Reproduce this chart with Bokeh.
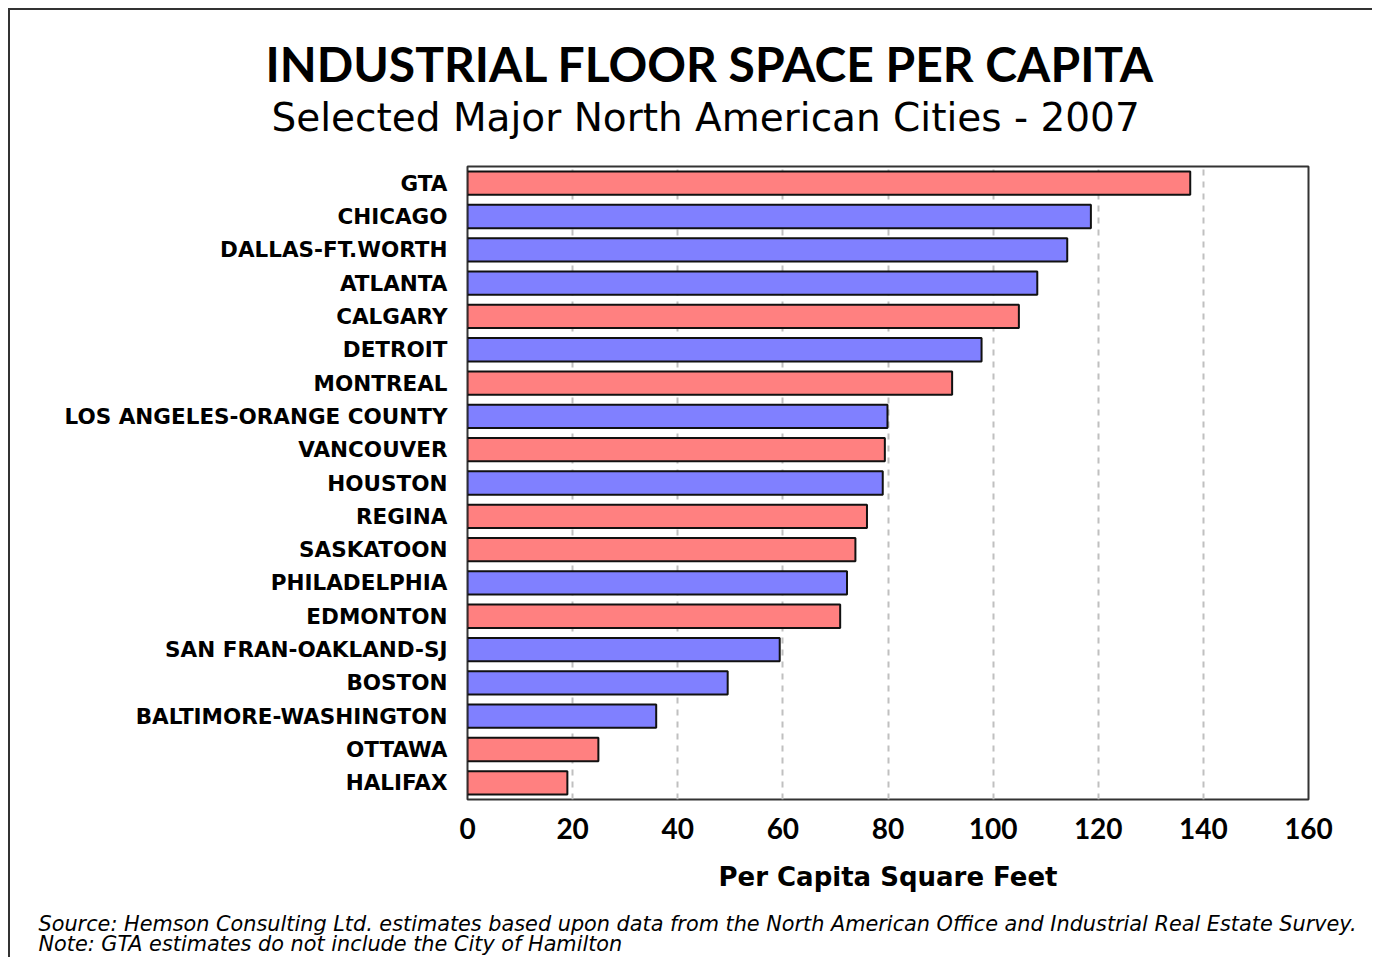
from bokeh.plotting import figure
from bokeh.models import Range1d, FixedTicker, FactorRange, ColumnDataSource, Title
from bokeh.layouts import column
from bokeh.transform import factor_cmap
from bokeh.embed import file_html
from bokeh.resources import INLINE

# ---- data ----
cities = ["GTA", "CHICAGO", "DALLAS-FT.WORTH", "ATLANTA", "CALGARY", "DETROIT",
          "MONTREAL", "LOS ANGELES-ORANGE COUNTY", "VANCOUVER", "HOUSTON",
          "REGINA", "SASKATOON", "PHILADELPHIA", "EDMONTON",
          "SAN FRAN-OAKLAND-SJ", "BOSTON", "BALTIMORE-WASHINGTON", "OTTAWA", "HALIFAX"]
per_capita_sqft = [137.5, 118.6, 114.1, 108.4, 104.9, 97.8, 92.2, 79.9, 79.4, 79.0,
                   76.0, 73.8, 72.2, 70.9, 59.4, 49.5, 35.9, 24.9, 19.0]
country = ["Canada", "US", "US", "US", "Canada", "US", "Canada", "US", "Canada", "US",
           "Canada", "Canada", "US", "Canada", "US", "US", "US", "Canada", "Canada"]
x_ticks = [0, 20, 40, 60, 80, 100, 120, 140, 160]

title_text = "INDUSTRIAL FLOOR SPACE PER CAPITA"
subtitle_text = "Selected Major North American Cities - 2007"
x_label = "Per Capita Square Feet"
source_note = ("Source: Hemson Consulting Ltd. estimates based upon data from the North "
               "American Office and Industrial Real Estate Survey.")
gta_note = "Note: GTA estimates do not include the City of Hamilton"

src = ColumnDataSource(dict(city=cities, value=per_capita_sqft, country=country))

p = figure(y_range=FactorRange(*reversed(cities)), x_range=Range1d(0, 160),
           width=1362, height=889, output_backend="svg", toolbar_location=None,
           min_border_left=457, min_border_right=64, min_border_top=156,
           min_border_bottom=100)

p.hbar(y="city", right="value", left=0, height=0.7, source=src,
       fill_color=factor_cmap("country", ["#FF8080", "#8080FF"], ["Canada", "US"]),
       line_color="#111111", line_width=2)

p.outline_line_color = "#333333"
p.outline_line_width = 2
p.background_fill_color = "white"
p.border_fill_color = "white"

p.ygrid.grid_line_color = None
p.xgrid.ticker = FixedTicker(ticks=x_ticks)
p.xgrid.grid_line_color = "#c0c0c0"
p.xgrid.grid_line_width = 2
p.xgrid.grid_line_dash = "6 6"

p.xaxis.ticker = FixedTicker(ticks=x_ticks)
for ax in (p.xaxis, p.yaxis):
    ax.axis_line_color = None
    ax.major_tick_line_color = None
    ax.minor_tick_line_color = None

p.yaxis.major_label_text_font = "DejaVu Sans"
p.yaxis.major_label_text_font_style = "bold"
p.yaxis.major_label_text_font_size = "21.5px"
p.yaxis.major_label_text_color = "black"
p.yaxis.major_label_standoff = 14

p.xaxis.major_label_text_font = "Lato"
p.xaxis.major_label_text_font_style = "bold"
p.xaxis.major_label_text_font_size = "28px"
p.xaxis.major_label_text_color = "black"
p.xaxis.major_label_standoff = 12
p.xaxis.axis_label = x_label
p.xaxis.axis_label_text_font = "DejaVu Sans"
p.xaxis.axis_label_text_font_style = "bold"
p.xaxis.axis_label_text_font_size = "26px"
p.xaxis.axis_label_text_color = "black"
p.xaxis.axis_label_standoff = 20

# titles above (added nearest-first)
p.add_layout(Title(text=subtitle_text, align="left", offset=-196,
                   text_font="DejaVu Sans", text_font_style="normal",
                   text_font_size="39px", text_color="black", standoff=53), "above")
p.add_layout(Title(text=title_text, align="left", offset=-202,
                   text_font="Lato", text_font_style="bold",
                   text_font_size="48px", text_color="black", standoff=-50), "above")

# footnote strip
p2 = figure(width=1362, height=58, x_range=Range1d(0, 1), y_range=Range1d(0, 1),
            output_backend="svg", toolbar_location=None, min_border=0,
            x_axis_location=None, y_axis_location=None)
p2.grid.visible = False
p2.outline_line_color = None
p2.background_fill_color = "white"
p2.border_fill_color = "white"
p2.add_layout(Title(text=source_note + "\n" + gta_note, align="left", offset=-429,
                    text_font="DejaVu Sans", text_font_style="italic",
                    text_font_size="20.8px", text_color="black",
                    text_line_height=0.87, standoff=2), "below")

layout = column(p, p2, spacing=0,
                styles={"margin-left": "8px", "margin-top": "8px",
                        "border-top": "2px solid #333", "border-left": "2px solid #333"})

open("out.html", "w").write(file_html(layout, INLINE))
